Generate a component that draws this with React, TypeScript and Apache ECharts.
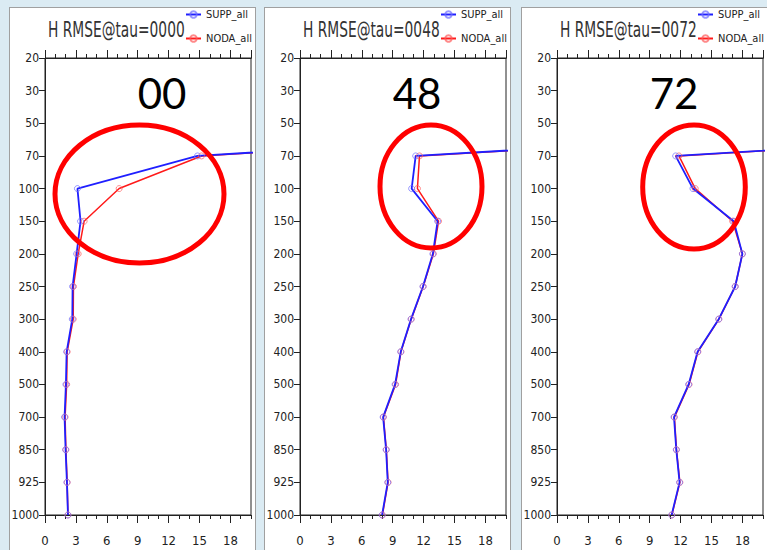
import React, { useEffect, useRef } from 'react';
import * as echarts from 'echarts';

const levels = ['20', '30', '50', '70', '100', '150', '200', '250', '300', '400', '500', '700', '850', '925', '1000'];

const supp00 = [52, 58, 66, 14.8, 3.15, 3.45, 3.07, 2.68, 2.65, 2.1, 2.03, 1.9, 2.0, 2.13, 2.23];
const noda00 = [52, 58, 66, 15.2, 7.2, 3.8, 3.22, 2.76, 2.74, 2.15, 2.1, 1.95, 2.03, 2.15, 2.23];

const supp48 = [50, 56, 65, 11.23, 10.84, 13.36, 12.9, 11.94, 10.78, 9.78, 9.23, 8.07, 8.36, 8.52, 7.97];
const noda48 = [50, 56, 65, 11.6, 11.4, 13.45, 12.95, 11.96, 10.8, 9.8, 9.28, 8.1, 8.38, 8.55, 8.0];

const supp72 = [49, 55, 64, 11.52, 13.2, 17.16, 18.0, 17.3, 15.7, 13.65, 12.78, 11.36, 11.58, 11.9, 11.13];
const noda72 = [49, 55, 64, 11.84, 13.42, 17.05, 18.0, 17.3, 15.72, 13.68, 12.82, 11.4, 11.6, 11.93, 11.15];

const titles = ['H RMSE@tau=0000', 'H RMSE@tau=0048', 'H RMSE@tau=0072'];
const bigLabels = ['00', '48', '72'];
const seriesNames = ['SUPP_all', 'NODA_all'];

const suppSets = [supp00, supp48, supp72];
const nodaSets = [noda00, noda48, noda72];

const panelLefts = [9, 264, 521];
const ellipses = [
  { cx: 129.5, cy: 186, rx: 84.5, ry: 69 },
  { cx: 166, cy: 178.5, rx: 51, ry: 61.5 },
  { cx: 172, cy: 179, rx: 51.3, ry: 62 },
];

const COND = "'DejaVu Sans Condensed', 'Liberation Sans', sans-serif";
const AX = '#222';

function makeXAxis(position: 'top' | 'bottom', major: boolean, withLabels: boolean) {
  return {
    type: 'value',
    min: 0,
    max: 20,
    interval: major ? 3 : 1,
    position,
    axisLine: { show: true, onZero: false, lineStyle: { color: AX, width: 1 } },
    axisTick: { show: true, length: major ? 8 : 4, lineStyle: { color: AX, width: 1 } },
    axisLabel: {
      show: withLabels,
      margin: 19,
      fontSize: 13,
      fontFamily: COND,
      color: AX,
      showMaxLabel: false,
    },
    splitLine: { show: false },
  };
}

function Panel({ idx }: { idx: number }) {
  const ref = useRef<HTMLDivElement>(null);
  useEffect(() => {
    if (!ref.current) return;
    const chart = echarts.init(ref.current, null, { renderer: 'svg' });
    const supp = suppSets[idx];
    const noda = nodaSets[idx];
    const e = ellipses[idx];
    chart.setOption({
      animation: false,
      grid: {
        left: 35,
        top: 50,
        right: 4,
        bottom: 51,
        show: true,
        borderColor: AX,
        borderWidth: 1,
        containLabel: false,
        outerBoundsMode: 'none',
      },
      xAxis: [
        makeXAxis('bottom', true, true),
        makeXAxis('bottom', false, false),
        makeXAxis('top', true, false),
        makeXAxis('top', false, false),
      ],
      yAxis: [
        {
          type: 'category',
          data: levels,
          inverse: true,
          boundaryGap: false,
          axisLine: { show: true, lineStyle: { color: AX, width: 1 } },
          axisTick: { show: true, length: 6, lineStyle: { color: AX } },
          axisLabel: { margin: 6, fontSize: 12, fontFamily: COND, color: AX },
          splitLine: { show: false },
        },
      ],
      legend: {
        data: seriesNames,
        orient: 'vertical',
        left: 170,
        top: -4,
        itemWidth: 15,
        itemHeight: 8,
        itemGap: 13,
        textStyle: { fontSize: 11, fontFamily: COND, color: AX },
      },
      series: [
        {
          name: seriesNames[1],
          type: 'line',
          xAxisIndex: 0,
          yAxisIndex: 0,
          data: noda.map((v, i) => [v, levels[i]]),
          symbol: 'circle',
          symbolSize: 6,
          lineStyle: { color: '#ff1a1a', width: 1.5 },
          itemStyle: { color: 'rgba(255,255,255,0)', borderColor: 'rgba(255,90,90,0.7)', borderWidth: 1 },
          clip: true,
        },
        {
          name: seriesNames[0],
          type: 'line',
          xAxisIndex: 0,
          yAxisIndex: 0,
          data: supp.map((v, i) => [v, levels[i]]),
          symbol: 'circle',
          symbolSize: 6,
          lineStyle: { color: '#1f1fff', width: 1.8 },
          itemStyle: { color: 'rgba(255,255,255,0)', borderColor: 'rgba(110,110,255,0.7)', borderWidth: 1 },
          clip: true,
        },
      ],
      graphic: [
        {
          type: 'text',
          x: 38,
          y: 22,
          scaleX: 0.73,
          style: {
            text: titles[idx],
            font: `21px ${COND}`,
            fill: '#333',
            textAlign: 'left',
            textVerticalAlign: 'middle',
          },
        },
        {
          type: 'text',
          x: 152,
          y: 85,
          style: {
            text: bigLabels[idx],
            font: `42px Lato, 'Open Sans', sans-serif`,
            fill: '#000',
            textAlign: 'center',
            textVerticalAlign: 'middle',
          },
        },
        {
          type: 'ellipse',
          shape: { cx: e.cx, cy: e.cy, rx: e.rx, ry: e.ry },
          style: { fill: 'none', stroke: '#ff0000', lineWidth: 5 },
          z: 100,
        },
      ],
    });
    return () => chart.dispose();
  }, [idx]);
  return (
    <div
      style={{
        position: 'absolute',
        left: panelLefts[idx],
        top: 7,
        width: 247,
        height: 560,
        boxSizing: 'border-box',
        border: '1px solid #a0a0a0',
        background: '#ffffff',
        overflow: 'hidden',
      }}
    >
      <div ref={ref} style={{ position: 'absolute', left: 0, top: 0, width: 245, height: 558 }} />
    </div>
  );
}

export default function App() {
  return (
    <div
      style={{
        position: 'fixed',
        left: 0,
        top: 0,
        width: 767,
        height: 550,
        background: '#dbebf3',
        overflow: 'hidden',
      }}
    >
      {[0, 1, 2].map((i) => (
        <Panel key={i} idx={i} />
      ))}
    </div>
  );
}
